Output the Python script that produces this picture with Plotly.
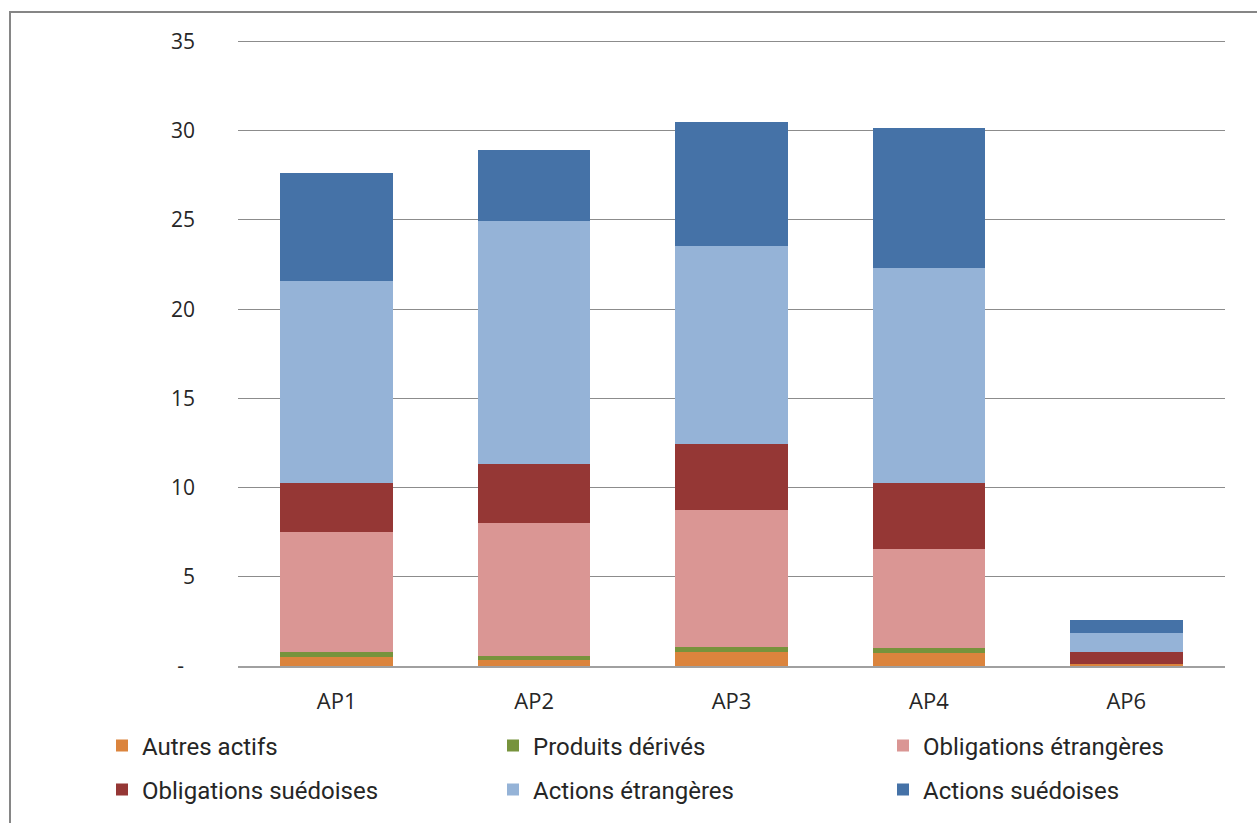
import plotly.graph_objects as go

categories = ["AP1", "AP2", "AP3", "AP4", "AP6"]
autres_actifs = [0.50, 0.35, 0.78, 0.71, 0.09]
produits_derives = [0.28, 0.23, 0.28, 0.28, 0.00]
obligations_etrangeres = [6.72, 7.42, 7.68, 5.56, 0.00]
obligations_suedoises = [2.75, 3.31, 3.69, 3.70, 0.69]
actions_etrangeres = [11.31, 13.61, 11.09, 12.04, 1.08]
actions_suedoises = [6.10, 3.98, 7.00, 7.84, 0.72]

series_names = ["Autres actifs", "Produits dérivés", "Obligations étrangères",
                "Obligations suédoises", "Actions étrangères", "Actions suédoises"]
series_values = [autres_actifs, produits_derives, obligations_etrangeres,
                 obligations_suedoises, actions_etrangeres, actions_suedoises]
series_colors = ["#DB843D", "#77933C", "#DA9694", "#953735", "#95B3D7", "#4572A7"]

y_tickvals = [0, 5, 10, 15, 20, 25, 30, 35]
y_ticktext = ["-\u00a0\u00a0", "5", "10", "15", "20", "25", "30", "35"]

L, R, T, B = 238, 32, 38, 156
W, H = 1257, 823
pw = W - L - R
ph = H - T - B

def px_x(p):
    return (p - L) / pw

def px_y(p):
    return (H - B - p) / ph

# legend slots (pixel positions of each entry: column left, row centre)
leg_cols = [102, 493, 883]
leg_rows = [746, 790]

fig = go.Figure()
legend_layouts = {}
legend_font = dict(family="Roboto, Arial", size=24, color="#262626")
for i, (name, vals, color) in enumerate(zip(series_names, series_values, series_colors)):
    key = "legend" if i == 0 else f"legend{i + 1}"
    fig.add_trace(go.Bar(
        x=categories, y=vals, name=name, legend=key, showlegend=True,
        marker=dict(color=color, line=dict(width=0)),
    ))
    legend_layouts[key] = dict(
        orientation="h", xanchor="left", yanchor="middle",
        x=px_x(leg_cols[i % 3]), y=px_y(leg_rows[i // 3]),
        font=legend_font, bgcolor="rgba(0,0,0,0)", itemclick=False,
        visible=True,
    )

fig.update_layout(
    width=W, height=H,
    showlegend=True,
    margin=dict(l=L, r=R, t=T, b=B),
    paper_bgcolor="white", plot_bgcolor="white",
    barmode="stack", bargap=0.43,
    font=dict(family="Open Sans, Arial", size=21, color="#262626"),
    xaxis=dict(showgrid=False, showline=True, linecolor="#A0A0A0", linewidth=2,
               ticks="", ticklabelstandoff=15, tickfont=dict(size=22)),
    yaxis=dict(range=[0, 35.2], tickvals=y_tickvals, ticktext=y_ticktext,
               showgrid=True, gridcolor="#8C8C8C", gridwidth=1, zeroline=False,
               showline=False, ticks="", ticklabelstandoff=42,
               tickfont=dict(size=21)),
    shapes=[dict(type="rect", xref="paper", yref="paper",
                 x0=px_x(10), x1=px_x(1270), y0=px_y(840), y1=px_y(12),
                 line=dict(color="#868686", width=2), fillcolor="rgba(0,0,0,0)",
                 layer="below")],
    **legend_layouts,
)

fig.write_html("out.html")
